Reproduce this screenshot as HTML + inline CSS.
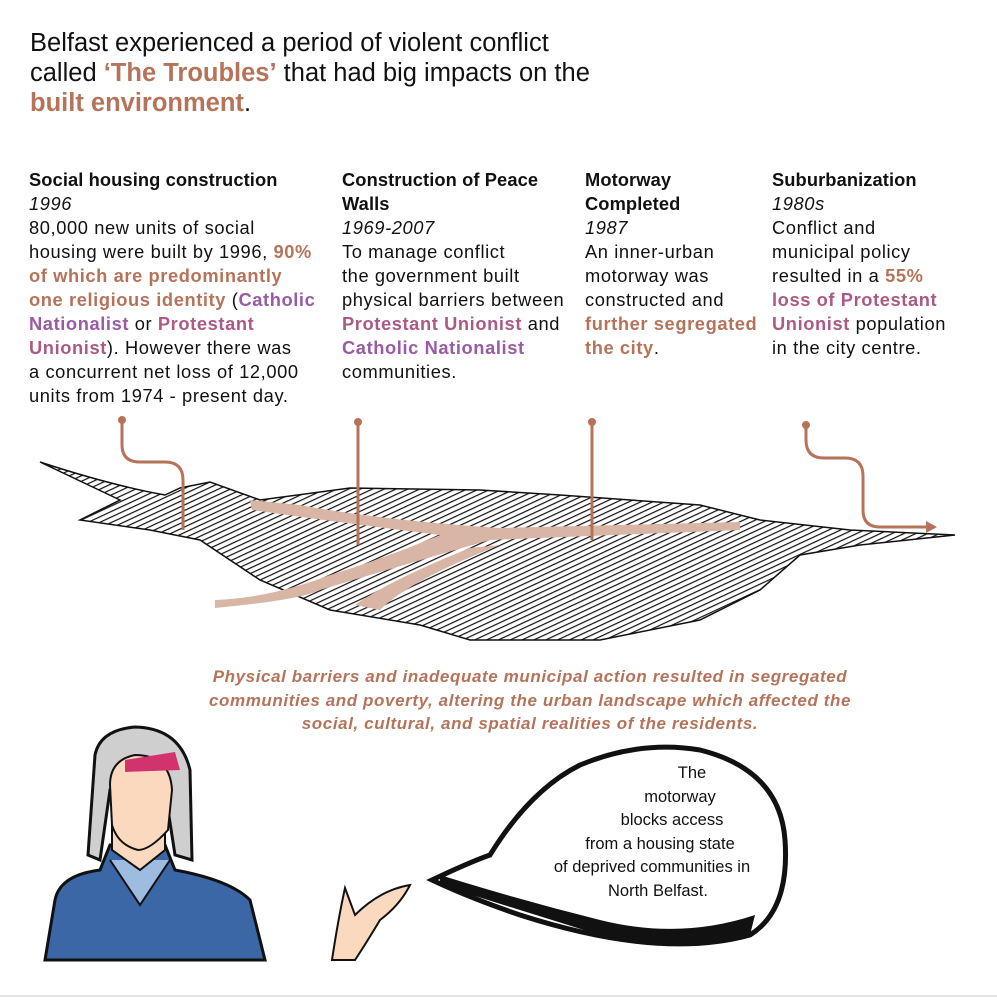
<!DOCTYPE html>
<html><head><meta charset="utf-8"><style>
body{margin:0;width:997px;height:1000px;background:#fff;position:relative;overflow:hidden;font-family:"Liberation Sans",sans-serif;color:#111}
.t{position:absolute;left:30px;top:28px;font-size:25.5px;line-height:30px;white-space:nowrap}
.b{color:#b5735a;font-weight:bold}
.p{color:#9a5aa6;font-weight:bold}
.k{color:#ab5a86;font-weight:bold}
.col{position:absolute;top:168px;font-size:18.3px;line-height:24px;white-space:nowrap;letter-spacing:0.6px}
.col h{display:block;font-weight:bold;letter-spacing:0.1px}
.col i{display:block}
.cap{position:absolute;left:130px;width:800px;top:665px;text-align:center;font-size:17px;line-height:23.5px;font-style:italic;font-weight:bold;color:#b5735a;white-space:nowrap;letter-spacing:0.6px}
.sp{position:absolute;left:500px;width:320px;top:762px;text-align:center;font-size:16.5px;line-height:23.5px}
</style></head><body>
<div class="t">Belfast experienced a period of violent conflict<br>called <span class="b">‘The Troubles’</span> that had big impacts on the<br><span class="b">built environment</span>.</div>
<div class="col" style="left:29px"><h>Social housing construction</h><i>1996</i>80,000 new units of social<br>housing were built by 1996, <span class="b">90%</span><br><span class="b">of which are predominantly</span><br><span class="b">one religious identity</span> (<span class="p">Catholic</span><br><span class="p">Nationalist</span> or <span class="k">Protestant</span><br><span class="k">Unionist</span>). However there was<br>a concurrent net loss of 12,000<br>units from 1974 - present day.</div>
<div class="col" style="left:342px"><h>Construction of Peace<br>Walls</h><i>1969-2007</i>To manage conflict<br>the government built<br>physical barriers between<br><span class="k">Protestant Unionist</span> and<br><span class="p">Catholic Nationalist</span><br>communities.</div>
<div class="col" style="left:585px"><h>Motorway<br>Completed</h><i>1987</i>An inner-urban<br>motorway was<br>constructed and<br><span class="b">further segregated</span><br><span class="b">the city</span>.</div>
<div class="col" style="left:772px"><h>Suburbanization</h><i>1980s</i>Conflict and<br>municipal policy<br>resulted in a <span class="b">55%</span><br><span class="k">loss of Protestant</span><br><span class="k">Unionist</span> population<br>in the city centre.</div>
<svg width="997" height="1000" style="position:absolute;left:0;top:0">
<defs><pattern id="h" width="5" height="5" patternUnits="userSpaceOnUse" patternTransform="rotate(65)"><rect width="5" height="5" fill="#fff"/><line x1="0" y1="0" x2="0" y2="5" stroke="#111" stroke-width="2.4"/></pattern></defs>
<path d="M40 462 Q110 485 165 495 L180 488 L210 482 L260 500 L350 488 L480 490 L560 495 L700 505 L760 520 L850 530 L955 535 L860 545 L800 555 L760 590 L700 620 L600 640 L470 640 L420 625 L330 610 L260 580 L200 540 L150 530 L80 520 L120 500 Z" fill="url(#h)" stroke="#111" stroke-width="1.5"/>
<path d="M215 608 Q300 600 320 590 Q420 560 490 540 L740 530 L740 522 L500 528 Q380 520 300 505 L250 500 L252 510 Q320 520 440 535 Q380 560 330 575 Q270 598 215 600 Z" fill="#d9b5a5"/>
<path d="M355 605 Q390 580 470 548 L500 545 Q410 580 380 610 Z" fill="#d9b5a5"/>
<g stroke="#b5735a" stroke-width="3" fill="none">
<path d="M122 420 V445 Q122 462 140 462 H165 Q183 462 183 480 V530"/>
<path d="M358 422 V545"/><path d="M592 422 V540"/>
<path d="M806 425 V440 Q806 458 824 458 H845 Q863 458 863 476 V510 Q863 527 880 527 H928"/>
</g>
<g fill="#b5735a"><circle cx="122" cy="420" r="4"/><circle cx="358" cy="422" r="4"/><circle cx="592" cy="422" r="4"/><circle cx="806" cy="425" r="4"/><path d="M926 521 L937 527 L926 533Z"/></g>
<line x1="0" y1="996" x2="997" y2="996" stroke="#e4e4e4" stroke-width="2"/>
<path d="M45 960 L55 900 Q60 875 100 870 L110 845 L165 845 L175 870 Q230 880 250 900 L265 960 Z" fill="#3b67a6" stroke="#111" stroke-width="3"/>
<path d="M110 860 L140 905 L170 860" fill="#9ebce0" stroke="#111" stroke-width="2"/>
<path d="M112 800 L112 850 L140 870 L165 850 L165 800 Z" fill="#fbd9bf" stroke="#111" stroke-width="2"/>
<path d="M95 755 Q100 730 135 727 Q180 728 190 770 L192 860 L175 855 L165 790 L110 790 L100 860 L88 855 Z" fill="#cfcfcf" stroke="#111" stroke-width="3"/>
<path d="M110 785 Q110 760 135 755 Q170 755 172 790 L168 830 Q150 850 138 850 Q118 845 112 825 Z" fill="#fbd9bf" stroke="#111" stroke-width="2"/>
<path d="M125 760 L175 752 L180 770 L125 772Z" fill="#d2336e"/>
<path d="M432 880 Q470 862 490 855 Q530 790 580 765 Q640 740 700 750 Q780 770 785 840 Q790 910 750 935 Q660 960 520 915 Q470 898 432 880Z" fill="#fff" stroke="#111" stroke-width="5"/>
<path d="M440 885 Q520 910 600 935 Q680 955 750 935 L755 915 Q680 940 600 920 Q520 900 440 875Z" fill="#111"/>
<path d="M332 960 Q338 920 345 888 L355 915 Q380 890 410 885 Q400 905 380 920 Q365 945 355 960Z" fill="#fbd9bf" stroke="#111" stroke-width="2"/>
</svg>
<div class="cap">Physical barriers and inadequate municipal action resulted in segregated<br>communities and poverty, altering the urban landscape which affected the<br>social, cultural, and spatial realities of the residents.</div>
<div class="sp"><span style="position:relative;left:32px">The</span><br><span style="position:relative;left:20px">motorway</span><br><span style="position:relative;left:12px">blocks access</span><br>from a housing state<br><span style="position:relative;left:-8px">of deprived communities in</span><br><span style="position:relative;left:-2px">North Belfast.</span></div>
</body></html>
